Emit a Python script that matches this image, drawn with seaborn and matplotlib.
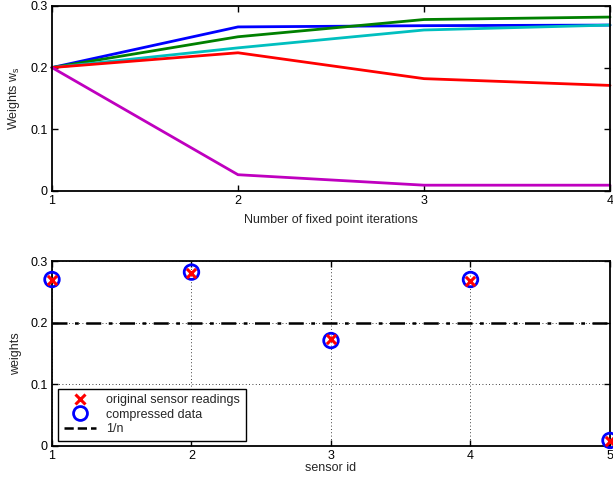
import matplotlib
matplotlib.use("Agg")
import matplotlib.pyplot as plt
from matplotlib.lines import Line2D
import seaborn as sns
import pandas as pd

# Fixed point iteration of the sensor weights
iterations = [1, 2, 3, 4]
w_blue = [0.200, 0.266, 0.268, 0.269]
w_green = [0.200, 0.250, 0.278, 0.282]
w_cyan = [0.200, 0.232, 0.261, 0.269]
w_red = [0.200, 0.224, 0.182, 0.171]
w_magenta = [0.200, 0.026, 0.009, 0.009]

# Final weights per sensor
sensor_ids = [1, 2, 3, 4, 5]
original_weights = [0.270, 0.281, 0.174, 0.268, 0.008]
compressed_weights = [0.270, 0.282, 0.171, 0.270, 0.009]
uniform_weight = 0.2

sns.set_style("white")
plt.rcParams["font.family"] = ["Liberation Sans", "DejaVu Sans"]
plt.rcParams["font.size"] = 9

fig = plt.figure(figsize=(6.13, 4.82), dpi=100)
ax1 = fig.add_axes([0.0848, 0.6043, 0.9103, 0.3833])
ax2 = fig.add_axes([0.0848, 0.0747, 0.9103, 0.3838])

series = {
    "s1": (w_blue, "#0000ff"),
    "s2": (w_green, "#008000"),
    "s3": (w_cyan, "#00bfbf"),
    "s4": (w_red, "#ff0000"),
    "s5": (w_magenta, "#bf00bf"),
}
rows = []
for name, (vals, _) in series.items():
    for it, v in zip(iterations, vals):
        rows.append({"iteration": it, "weight": v, "sensor": name})
df = pd.DataFrame(rows)
palette = {k: c for k, (_, c) in series.items()}
sns.lineplot(data=df, x="iteration", y="weight", hue="sensor", palette=palette,
             linewidth=2, legend=False, ax=ax1, clip_on=False)

ax1.set_xlim(1, 4)
ax1.set_ylim(0, 0.3)
ax1.set_xticks([1, 2, 3, 4])
ax1.set_yticks([0, 0.1, 0.2, 0.3])
ax1.set_xticklabels(["1", "2", "3", "4"])
ax1.set_yticklabels(["0", "0.1", "0.2", "0.3"])
ax1.set_xlabel("Number of fixed point iterations", labelpad=5)
ax1.set_ylabel("Weights w$_\\mathregular{s}$", labelpad=6)

# Sensor weights panel
pts = pd.DataFrame({"sensor": sensor_ids, "orig": original_weights,
                    "comp": compressed_weights})
sns.scatterplot(data=pts, x="sensor", y="comp", marker="o", s=110,
                facecolors="none", edgecolor="#0000ff", linewidth=2,
                ax=ax2, clip_on=False, zorder=3)
sns.scatterplot(data=pts, x="sensor", y="orig", marker="x", s=45,
                color="#ff0000", linewidth=2.2, ax=ax2, clip_on=False, zorder=4)
ax2.axhline(uniform_weight, color="black", linestyle="-.", linewidth=1.8,
            dashes=(6, 3, 1.5, 3))

ax2.set_xlim(1, 5)
ax2.set_ylim(0, 0.3)
ax2.set_xticks(sensor_ids)
ax2.set_yticks([0, 0.1, 0.2, 0.3])
ax2.set_xticklabels([str(s) for s in sensor_ids])
ax2.set_yticklabels(["0", "0.1", "0.2", "0.3"])
ax2.set_xlabel("sensor id", labelpad=0)
ax2.set_ylabel("weights", labelpad=6)
ax2.grid(True, linestyle=(0, (1, 3)), color="black", linewidth=0.6)

handles = [
    Line2D([], [], linestyle="none", marker="x", color="#ff0000",
           markersize=7, markeredgewidth=2.2),
    Line2D([], [], linestyle="none", marker="o", markerfacecolor="none",
           markeredgecolor="#0000ff", markersize=10, markeredgewidth=2),
    Line2D([], [], linestyle="--", color="black", linewidth=1.8),
]
leg = ax2.legend(handles, ["original sensor readings", "compressed data", "1/n"],
                 loc="lower left", bbox_to_anchor=(0.011, 0.027),
                 borderaxespad=0, fancybox=False, edgecolor="black",
                 framealpha=1, borderpad=0.45, labelspacing=0.2,
                 handlelength=2.6, handletextpad=0.8, fontsize=9)
leg.get_frame().set_linewidth(1.0)

for ax in (ax1, ax2):
    for sp in ax.spines.values():
        sp.set_visible(True)
        sp.set_color("black")
        sp.set_linewidth(1.3)
    ax.tick_params(direction="in", length=4, width=1, top=True, right=True,
                   bottom=True, left=True, labelsize=9, pad=3, colors="black")

fig.savefig("out.png", dpi=100)
